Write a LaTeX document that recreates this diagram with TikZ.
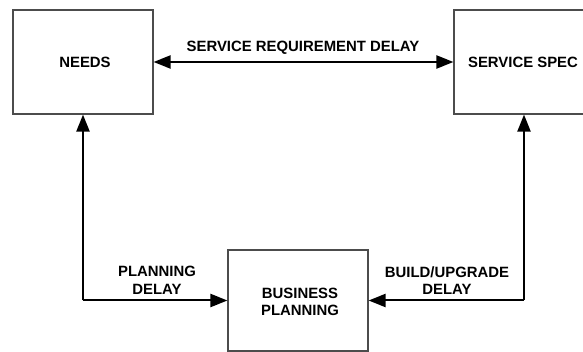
\documentclass[tikz,border=0pt]{standalone}
\usepackage{fontspec}
\setmainfont{Liberation Sans}
\usetikzlibrary{arrows.meta}
\begin{document}
\begin{tikzpicture}[x=1pt,y=-1pt,
  box/.style={draw=black!70,line width=1.1pt,fill=white,inner sep=0pt},
  lbl/.style={font=\bfseries\fontsize{14.9}{17.5}\selectfont,align=center,inner sep=0pt},
  flow/.style={line width=2pt,-{Triangle[length=17pt,width=13pt]}},
  flow2/.style={line width=2pt,{Triangle[length=17pt,width=13pt]}-{Triangle[length=17pt,width=13pt]}}]
\useasboundingbox[fill=white] (0,0) rectangle (583,352);
% boxes
\node[box,minimum width=140pt,minimum height=104pt] (needs) at (83,62) {};
\node[lbl] at (85,62) {NEEDS};
\node[box,minimum width=140pt,minimum height=104pt] (spec) at (524,62) {};
\node[lbl] at (523,62) {SERVICE SPEC};
\node[box,minimum width=140pt,minimum height=101pt] (biz) at (298,300.5) {};
\node[lbl] at (300,302) {BUSINESS\\PLANNING};
% connectors
\coordinate (bl) at (needs.south |- biz.west);
\coordinate (br) at (spec.south |- biz.east);
\draw[flow2] (needs.east) -- (spec.west);
\draw[flow] (bl) -- (needs.south);
\draw[flow] (bl) -- (biz.west);
\draw[flow] (br) -- (spec.south);
\draw[flow] (br) -- (biz.east);
% labels
\node[lbl] (srd) at (303,48) {SERVICE REQUIREMENT DELAY};
\node[lbl] (pd) at (157,280.5) {PLANNING\\DELAY};
\node[lbl] (bud) at (447,280.5) {BUILD/UPGRADE\\DELAY};
\end{tikzpicture}
\end{document}
